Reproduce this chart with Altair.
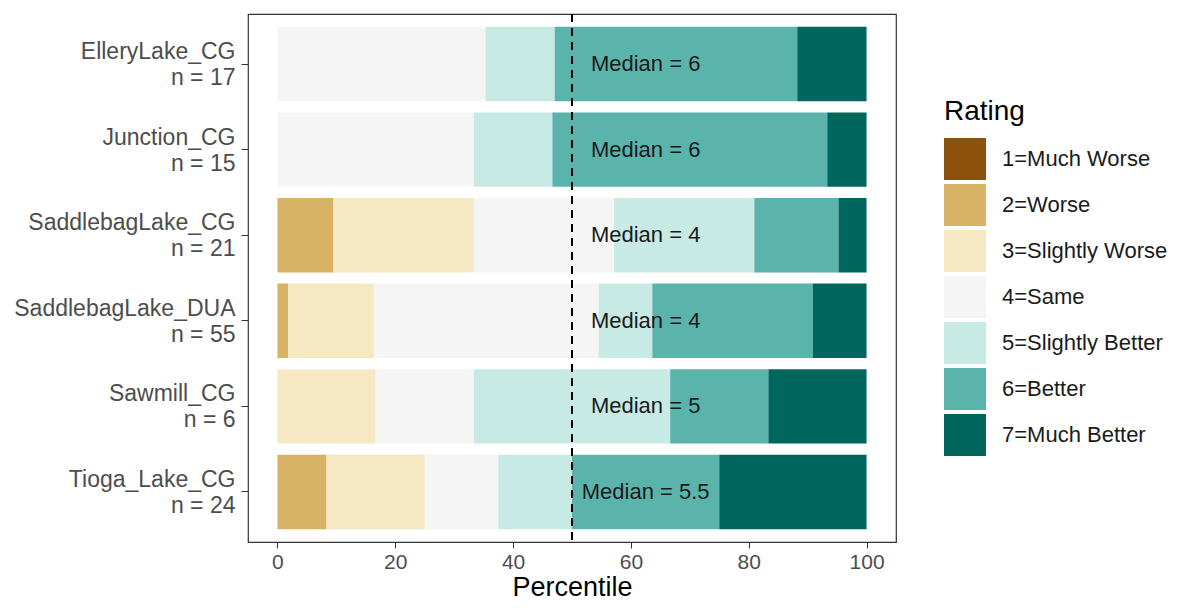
import altair as alt
import pandas as pd

sites = ["ElleryLake_CG", "Junction_CG", "SaddlebagLake_CG",
         "SaddlebagLake_DUA", "Sawmill_CG", "Tioga_Lake_CG"]
ratings = ["1=Much Worse", "2=Worse", "3=Slightly Worse", "4=Same",
           "5=Slightly Better", "6=Better", "7=Much Better"]
colors = ["#8c510a", "#d8b365", "#f6e8c3", "#f5f5f5",
          "#c7eae5", "#5ab4ac", "#01665e"]

# response counts for ratings 1..7 at each site
ellery = [0, 0, 0, 6, 2, 7, 2]
junction = [0, 0, 0, 5, 2, 7, 1]
saddle_cg = [0, 2, 5, 5, 5, 3, 1]
saddle_dua = [0, 1, 8, 21, 5, 15, 5]
sawmill = [0, 0, 1, 1, 2, 1, 1]
tioga = [0, 2, 4, 3, 3, 6, 6]
medians = [6, 6, 4, 4, 5, 5.5]

counts = [ellery, junction, saddle_cg, saddle_dua, sawmill, tioga]

rows = []
site_labels = []
for site, cnt in zip(sites, counts):
    n = sum(cnt)
    lab = f"{site}|n = {n}"
    site_labels.append(lab)
    for i, c in enumerate(cnt):
        if c > 0:
            rows.append({"site": lab, "rating": ratings[i], "order": i + 1,
                         "pct": c / n * 100})
df = pd.DataFrame(rows)
med_df = pd.DataFrame({"site": site_labels,
                       "text": [f"Median = {m:g}" for m in medians]})
ref_df = pd.DataFrame({"ref": [50]})

FONT = "Liberation Sans"

y_enc = alt.Y("site:N", sort=site_labels, title=None,
              scale=alt.Scale(paddingInner=0.13, paddingOuter=0.15),
              axis=alt.Axis(domain=False, ticks=True, tickSize=7,
                            tickColor="#333333", labelFontSize=23,
                            labelColor="#4d4d4d", labelPadding=6,
                            labelLimit=400, labelLineHeight=26,
                            labelOffset=-12,
                            labelExpr="split(datum.label, '|')"))

bars = alt.Chart(df).mark_bar().encode(
    x=alt.X("pct:Q", stack="zero",
            scale=alt.Scale(domain=[-5, 105], nice=False, zero=False),
            axis=alt.Axis(values=[0, 20, 40, 60, 80, 100], grid=False,
                          domain=False, tickSize=6, tickColor="#333333",
                          labelFontSize=21, labelColor="#4d4d4d",
                          labelPadding=3, title="Percentile",
                          titleFontSize=27, titleFontWeight="normal",
                          titleColor="#000000", titlePadding=2)),
    y=y_enc,
    color=alt.Color("rating:N",
                    scale=alt.Scale(domain=ratings, range=colors),
                    legend=alt.Legend(title="Rating", orient="none",
                                      legendX=696, legendY=84,
                                      titleFontSize=28,
                                      titleFontWeight="normal",
                                      titleColor="#000000",
                                      titlePadding=12,
                                      labelFontSize=22,
                                      labelColor="#1a1a1a",
                                      labelOffset=16,
                                      symbolType="square",
                                      symbolSize=1764,
                                      symbolStrokeWidth=0,
                                      symbolOpacity=1,
                                      rowPadding=4,
                                      labelLimit=400)),
    order=alt.Order("order:Q", sort="ascending"),
)

rule = alt.Chart(ref_df).mark_rule(color="#000000", strokeWidth=2,
                                   strokeDash=[8, 6]).encode(x="ref:Q")

texts = alt.Chart(med_df).mark_text(fontSize=22, align="center",
                                    baseline="middle",
                                    color="#1a1a1a").encode(
    x=alt.datum(62.5),
    y=alt.Y("site:N", sort=site_labels),
    text="text:N",
)

chart = alt.layer(bars, rule, texts).properties(
    width=648, height=528,
    padding={"left": 5, "top": 5, "right": 5, "bottom": 0},
).configure(font=FONT).configure_view(
    stroke="#333333", strokeWidth=1.2
)

chart.save("out.html", embed_options={"renderer": "svg", "actions": False})
